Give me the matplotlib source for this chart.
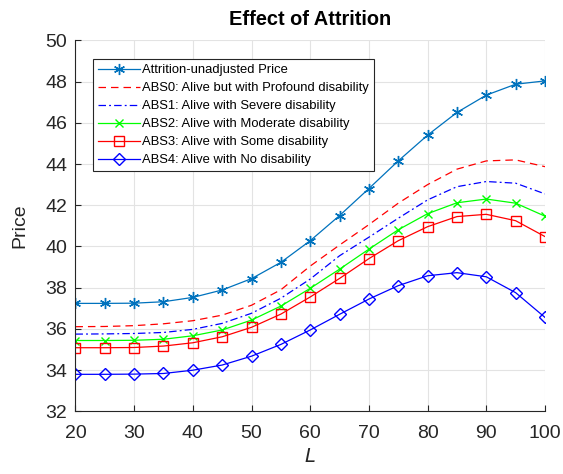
import numpy as np
import matplotlib.pyplot as plt

plt.rcParams['font.family'] = ['Liberation Sans', 'DejaVu Sans']

L = [20, 25, 30, 35, 40, 45, 50, 55, 60, 65, 70, 75, 80, 85, 90, 95, 100]

unadjusted = [37.24, 37.24, 37.25, 37.32, 37.53, 37.89, 38.44, 39.23, 40.28, 41.5, 42.81,
              44.15, 45.4, 46.5, 47.34, 47.87, 48.03]
abs0 = [36.11, 36.12, 36.16, 36.25, 36.4, 36.67, 37.15, 37.9, 39.05, 40.07, 41.06,
        42.1, 43.0, 43.75, 44.15, 44.2, 43.87]
abs1 = [35.75, 35.76, 35.78, 35.83, 35.98, 36.27, 36.76, 37.49, 38.42, 39.55, 40.45,
        41.37, 42.26, 42.9, 43.15, 43.07, 42.55]
abs2 = [35.44, 35.44, 35.45, 35.5, 35.67, 35.95, 36.43, 37.11, 37.97, 38.9, 39.87,
        40.81, 41.59, 42.12, 42.3, 42.1, 41.47]
abs3 = [35.09, 35.09, 35.1, 35.17, 35.33, 35.62, 36.08, 36.72, 37.55, 38.45, 39.41,
        40.28, 40.96, 41.45, 41.56, 41.25, 40.48]
abs4 = [33.8, 33.8, 33.81, 33.84, 34.0, 34.25, 34.68, 35.25, 35.95, 36.71, 37.45,
        38.1, 38.58, 38.73, 38.53, 37.76, 36.56]

labels = ['Attrition-unadjusted Price',
          'ABS0: Alive but with Profound disability',
          'ABS1: Alive with Severe disability',
          'ABS2: Alive with Moderate disability',
          'ABS3: Alive with Some disability',
          'ABS4: Alive with No disability']

fig = plt.figure(figsize=(5.63, 4.74), dpi=100)
ax = fig.add_axes([0.134, 0.132, 0.834, 0.783])

# matlab-like asterisk marker
ax.plot(L, unadjusted, color='#0072BD', marker=(6, 2, 0), ms=8, mew=1.0, lw=0.9, label=labels[0])
ax.plot(L, abs0, color='r', ls=(0, (6, 4)), lw=0.9, label=labels[1])
ax.plot(L, abs1, color='b', ls=(0, (6, 2.5, 1.5, 2.5)), lw=0.9, label=labels[2])
ax.plot(L, abs2, color='#00ff00', marker='x', ms=6, mew=1.0, lw=0.9, label=labels[3])
ax.plot(L, abs3, color='r', marker='s', ms=7, mfc='none', lw=0.9, label=labels[4])
ax.plot(L, abs4, color='b', marker='D', ms=6.5, mfc='none', lw=0.9, label=labels[5])

ax.set_xlim(20, 100)
ax.set_ylim(32, 50)
ax.set_xticks(np.arange(20, 101, 10))
ax.set_yticks(np.arange(32, 51, 2))
ax.grid(True, color='#e3e3e3', lw=0.8)
ax.set_axisbelow(True)
for s in ['top', 'right']:
    ax.spines[s].set_visible(False)
for s in ['left', 'bottom']:
    ax.spines[s].set_color('#262626')
    ax.spines[s].set_linewidth(0.8)
ax.tick_params(direction='in', labelsize=14, colors='#262626', length=4, width=0.8)
ax.tick_params(axis='x', pad=10)
ax.tick_params(axis='y', pad=6)

ax.set_xlabel('$L$', fontsize=14, color='#262626', labelpad=4)
ax.set_ylabel('Price', fontsize=14, color='#262626', labelpad=12)
ax.set_title('Effect of Attrition', fontsize=14.4, fontweight='bold', pad=11)

leg = ax.legend(loc='upper left', bbox_to_anchor=(0.037, 0.95), fontsize=9.4,
                handlelength=3.2, fancybox=False, edgecolor='#262626', framealpha=1,
                borderpad=0.4, labelspacing=0.45, handletextpad=0.2, borderaxespad=0)
leg.get_frame().set_linewidth(0.8)

fig.savefig('out.png', dpi=100)
